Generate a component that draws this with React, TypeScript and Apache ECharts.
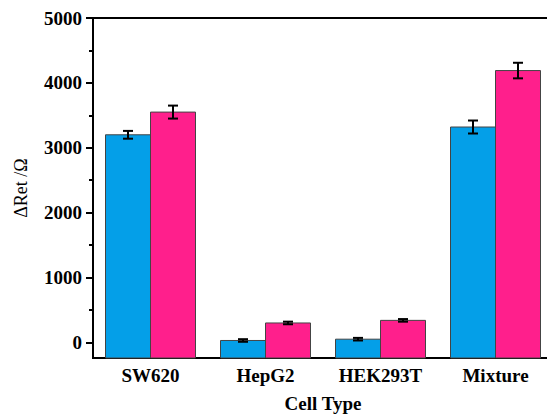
import React, { useEffect, useRef } from "react";
import * as echarts from "echarts";

const categories = ["SW620", "HepG2", "HEK293T", "Mixture"];
const seriesA = [3200, 30, 50, 3320];
const errorsA = [60, 20, 20, 100];
const seriesB = [3550, 300, 340, 4190];
const errorsB = [100, 20, 20, 120];
const majorTicks = [0, 1000, 2000, 3000, 4000, 5000];
const minorTicks = [500, 1500, 2500, 3500, 4500];

const Y_MIN = -240;
const BAR_W = 45;
const FONT = "'Liberation Serif', 'Times New Roman', serif";

function barSeries(name: string, vals: number[], offset: number, color: string) {
  return {
    type: "custom",
    name,
    z: 5,
    data: vals.map((v, i) => [i, v]),
    encode: { x: 0, y: 1 },
    renderItem: (params: any, api: any) => {
      const i = api.value(0);
      const v = api.value(1);
      const top = api.coord([i, v]);
      const base = api.coord([i, Y_MIN]);
      return {
        type: "rect",
        shape: { x: top[0] + offset - BAR_W / 2, y: top[1], width: BAR_W, height: base[1] - top[1] },
        style: { fill: color, stroke: "#444", lineWidth: 1 },
      };
    },
  };
}

function errSeries(vals: number[], errs: number[], offset: number) {
  return {
    type: "custom",
    z: 10,
    data: vals.map((v, i) => [i, v, errs[i]]),
    encode: { x: 0, y: 1 },
    renderItem: (params: any, api: any) => {
      const i = api.value(0);
      const v = api.value(1);
      const e = api.value(2);
      const top = api.coord([i, v + e]);
      const bot = api.coord([i, v - e]);
      const x = top[0] + offset;
      const cw = 5;
      const style = { stroke: "#000", lineWidth: 2 };
      return {
        type: "group",
        children: [
          { type: "line", shape: { x1: x, y1: top[1], x2: x, y2: bot[1] }, style },
          { type: "line", shape: { x1: x - cw, y1: top[1], x2: x + cw, y2: top[1] }, style },
          { type: "line", shape: { x1: x - cw, y1: bot[1], x2: x + cw, y2: bot[1] }, style },
        ],
      };
    },
  };
}

export default function App() {
  const ref = useRef<HTMLDivElement>(null);
  useEffect(() => {
    if (!ref.current) return;
    const chart = echarts.init(ref.current, null, { renderer: "svg" });
    const yBase = {
      type: "value",
      min: Y_MIN,
      max: 5000,
      splitLine: { show: false },
    };
    chart.setOption({
      animation: false,
      backgroundColor: "#fff",
      grid: {
        left: 93,
        width: 460,
        top: 18,
        height: 340,
        show: true,
        borderColor: "#000",
        borderWidth: 2,
        containLabel: false,
        outerBoundsMode: "none",
      },
      xAxis: {
        type: "category",
        data: categories,
        axisLine: { onZero: false, lineStyle: { color: "#000", width: 2 } },
        axisTick: { show: false },
        axisLabel: { fontFamily: FONT, fontWeight: "bold", fontSize: 19, color: "#000", margin: 8 },
        name: "Cell Type",
        nameLocation: "middle",
        nameGap: 36,
        nameTextStyle: { fontFamily: FONT, fontWeight: "bold", fontSize: 19, color: "#000" },
      },
      yAxis: [
        {
          ...yBase,
          axisLine: { show: true, lineStyle: { color: "#000", width: 2 } },
          axisTick: { show: true, inside: false, length: 7, customValues: majorTicks, lineStyle: { color: "#000", width: 2 } },
          axisLabel: {
            customValues: majorTicks,
            formatter: (v: number) => String(v),
            fontFamily: FONT,
            fontWeight: "bold",
            fontSize: 19,
            color: "#000",
            margin: 11,
          },
          name: "ΔRet /Ω",
          nameLocation: "middle",
          nameGap: 63,
          nameRotate: 90,
          nameTextStyle: { fontFamily: FONT, fontSize: 18, color: "#000" },
        },
        {
          ...yBase,
          position: "left",
          axisLine: { show: false },
          axisTick: { show: true, length: 4, customValues: minorTicks, lineStyle: { color: "#000", width: 2 } },
          axisLabel: { show: false },
        },
      ],
      series: [
        barSeries("A", seriesA, -BAR_W / 2, "#049FE8"),
        barSeries("B", seriesB, BAR_W / 2, "#FF1F8C"),
        errSeries(seriesA, errorsA, -BAR_W / 2),
        errSeries(seriesB, errorsB, BAR_W / 2),
      ],
    });
    return () => chart.dispose();
  }, []);
  return <div ref={ref} style={{ width: 547, height: 414, position: "absolute", left: 0, top: 0 }} />;
}
